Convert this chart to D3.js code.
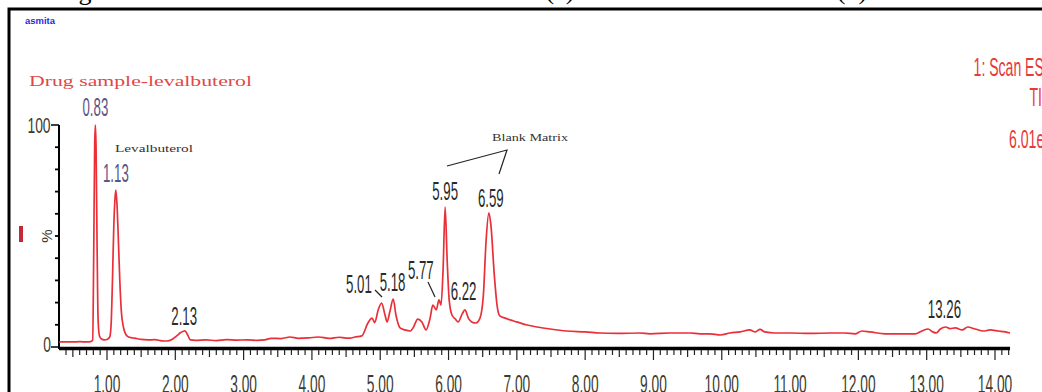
<!DOCTYPE html>
<html>
<head>
<meta charset="utf-8">
<script src="https://cdn.jsdelivr.net/npm/d3@7"></script>
<style>
  html, body { margin: 0; padding: 0; background: #fff; }
  svg { display: block; }
</style>
</head>
<body>
<svg id="chart" width="1042" height="392"></svg>
<script>
// ---------------- DATA ----------------
const rtTimes = [
  0.30, 0.40, 0.50, 0.60, 0.70, 0.76, 0.79, 0.805, 0.82, 0.83, 0.84, 0.855, 0.87, 0.89, 0.92, 0.96, 1.00, 1.04,
  1.06, 1.08, 1.10, 1.12, 1.13, 1.15, 1.17, 1.19, 1.21, 1.24, 1.27, 1.30, 1.35, 1.40, 1.50, 1.60, 1.70, 1.80,
  1.88, 1.95, 2.02, 2.08, 2.14, 2.18, 2.22, 2.30, 2.45, 2.60, 2.75, 2.90, 3.05, 3.20, 3.31, 3.40, 3.55, 3.68,
  3.80, 3.95, 4.10, 4.25, 4.40, 4.50, 4.56, 4.63, 4.73, 4.82, 4.88, 4.92, 4.97, 5.02, 5.07, 5.10, 5.14, 5.19,
  5.23, 5.29, 5.36, 5.44, 5.48, 5.55, 5.61, 5.67, 5.73, 5.77, 5.82, 5.86, 5.89, 5.92, 5.95, 5.98, 6.01, 6.05,
  6.10, 6.14, 6.20, 6.24, 6.29, 6.34, 6.40, 6.46, 6.51, 6.55, 6.59, 6.62, 6.67, 6.71, 6.75, 6.83, 6.90, 7.00,
  7.15, 7.30, 7.49, 7.73, 8.00, 8.22, 8.47, 8.80, 8.95, 9.24, 9.54, 9.68, 9.83, 9.98, 10.12, 10.27, 10.41,
  10.49, 10.56, 10.63, 10.78, 11.00, 11.29, 11.59, 11.80, 11.95, 12.05, 12.17, 12.39, 12.61, 12.83, 12.93,
  13.02, 13.09, 13.14, 13.20, 13.28, 13.34, 13.42, 13.52, 13.60, 13.71, 13.83, 13.93, 14.05, 14.15, 14.22
];
const rtIntensity = [
  2.3, 2.3, 2.3, 2.4, 2.3, 2.4, 3.0, 40, 92, 100, 90, 45, 12, 5.0, 3.6, 3.2, 3.4, 4.5,
  10, 30, 55, 68, 70.7, 62, 45, 28, 16, 9.0, 6.0, 4.8, 4.2, 4.0, 3.4, 3.2, 3.3, 2.8,
  2.7, 3.4, 5.0, 6.5, 7.3, 5.5, 3.2, 3.0, 3.2, 2.9, 3.3, 3.1, 3.2, 3.0, 3.2, 3.9, 3.8, 4.5,
  3.9, 4.1, 4.5, 3.9, 4.4, 4.0, 4.0, 4.5, 5.0, 10.8, 13.0, 11.0, 16.7, 19.8, 14.4, 11.3, 15.8, 21.6,
  14.4, 8.6, 7.7, 7.2, 8.6, 12.6, 11.3, 7.7, 13.0, 18.9, 16.7, 21.2, 18.9, 34.7, 63.0, 39.0, 21.0, 14.4,
  12.6, 11.3, 14.9, 16.7, 13.0, 11.3, 10.8, 13.0, 23.4, 48.0, 60.4, 55.0, 32.4, 18.9, 14.0, 13.0, 12.2, 11.3,
  9.9, 9.0, 8.1, 7.2, 6.8, 6.3, 6.1, 6.3, 5.9, 6.3, 6.3, 5.9, 5.9, 5.4, 6.3, 6.8, 7.7,
  6.8, 7.9, 6.8, 6.3, 6.3, 6.1, 6.3, 6.3, 5.9, 7.2, 6.8, 5.9, 5.9, 5.9, 7.2,
  8.1, 6.8, 6.3, 8.1, 9.0, 8.3, 8.6, 7.7, 9.0, 8.1, 7.2, 7.7, 7.2, 6.8, 6.3
];

const peakLabels  = ["0.83", "1.13", "2.13", "5.01", "5.18", "5.77", "5.95", "6.22", "6.59", "13.26"];
const peakTimes   = [0.83, 1.13, 2.13, 5.01, 5.18, 5.77, 5.95, 6.22, 6.59, 13.26];
const peakHeights = [100, 70.7, 7.3, 19.8, 21.6, 18.9, 63.0, 16.7, 60.4, 9.0];

const xTickValues = [1, 2, 3, 4, 5, 6, 7, 8, 9, 10, 11, 12, 13, 14];
const xTickLabels = ["1.00", "2.00", "3.00", "4.00", "5.00", "6.00", "7.00", "8.00", "9.00", "10.00", "11.00", "12.00", "13.00", "14.00"];
const yTickLabels = ["0", "100"];

const headerTexts = ["1: Scan ES+", "TIC", "6.01e7"];

// ---------------- LAYOUT ----------------
const svg = d3.select("#chart");
const x = d3.scaleLinear().domain([1, 14]).range([107, 995]);
const y = d3.scaleLinear().domain([0, 100]).range([347, 125]);
const xMin = 0.297, xMax = 14.22;

const narrow = "'Liberation Sans', Arial, sans-serif";
function condText(g, txt, cx, by, size, sx, color, anchor) {
  return g.append("text")
    .attr("transform", `translate(${cx},${by}) scale(${sx},1)`)
    .attr("text-anchor", anchor || "middle")
    .attr("font-family", narrow)
    .attr("font-size", size)
    .attr("fill", color)
    .text(txt);
}

// caption remnants clipped at top
const cap = svg.append("g").attr("font-family", "'Liberation Serif', serif").attr("font-size", 26).attr("fill", "#000");
cap.append("text").attr("x", 85).attr("y", 0).attr("text-anchor", "middle").text("g");
cap.append("text").attr("x", 560).attr("y", -1).attr("text-anchor", "middle").text("(a)");
cap.append("text").attr("x", 852).attr("y", -1).attr("text-anchor", "middle").text("(b)");

// frame
svg.append("rect").attr("x", 9).attr("y", 9).attr("width", 1100).attr("height", 420)
  .attr("fill", "none").attr("stroke", "#000").attr("stroke-width", 3);

// header texts
svg.append("text").attr("x", 25).attr("y", 24)
  .attr("font-family", "'Liberation Sans', Arial, sans-serif").attr("font-weight", "bold")
  .attr("font-size", 9).attr("fill", "#2b2bd6").attr("textLength", 30).attr("lengthAdjust", "spacingAndGlyphs")
  .text("asmita");

svg.append("text").attr("x", 29).attr("y", 86)
  .attr("font-family", "'Liberation Serif', 'Times New Roman', serif")
  .attr("font-size", 15).attr("fill", "#e04848")
  .attr("textLength", 223).attr("lengthAdjust", "spacingAndGlyphs")
  .text("Drug sample-levalbuterol");

const hdrY = [76, 106, 148];
headerTexts.forEach((t, i) => condText(svg, t, 1052, hdrY[i], 26, 0.54, "#e83838", "end"));

// y axis
const ax = svg.append("g");
ax.append("line").attr("x1", 59).attr("x2", 59).attr("y1", y(100)).attr("y2", y(0) + 2)
  .attr("stroke", "#000").attr("stroke-width", 2);
d3.range(0, 101, 10).forEach(v => {
  const major = (v === 0 || v === 100);
  ax.append("line").attr("x1", major ? 51 : 55).attr("x2", 59).attr("y1", y(v)).attr("y2", y(v))
    .attr("stroke", "#000").attr("stroke-width", major ? 1.5 : 1.8);
});
condText(ax, yTickLabels[1], 39, y(100) + 8, 22, 0.63, "#3c3c30");
condText(ax, yTickLabels[0], 47, y(0) + 5, 22, 0.63, "#3c3c30");
ax.append("text").attr("transform", `translate(52,${y(50)}) rotate(-90)`)
  .attr("text-anchor", "middle").attr("font-family", narrow).attr("font-size", 15).attr("fill", "#333")
  .text("%");
svg.append("rect").attr("x", 19).attr("y", 226).attr("width", 4).attr("height", 16).attr("fill", "#c42a36");

// x axis
const xa = svg.append("g");
xa.append("line").attr("x1", x(xMin)).attr("x2", x(xMax)).attr("y1", 348.5).attr("y2", 348.5)
  .attr("stroke", "#000").attr("stroke-width", 3.5);
d3.range(4, 143).forEach(k => {
  const v = k / 10;
  const len = (k % 10 === 0) ? 10 : (k % 5 === 0 ? 7 : 5);
  xa.append("line").attr("x1", x(v)).attr("x2", x(v)).attr("y1", 350).attr("y2", 350 + len)
    .attr("stroke", "#222").attr("stroke-width", 1.2);
});
xTickValues.forEach((v, i) => condText(xa, xTickLabels[i], x(v), 393, 25, 0.55, "#3c3c30"));

// trace
const line = d3.line().x((d, i) => x(rtTimes[i])).y(d => y(d)).curve(d3.curveMonotoneX);
svg.append("path").datum(rtIntensity).attr("d", line)
  .attr("fill", "none").attr("stroke", "#ea2f38").attr("stroke-width", 1.7).attr("stroke-linejoin", "round");

// peak labels
const labelDx = [0, 0, 0, -22, 0, -12, 0, 0, 2, 0];
const labelDy = [-9, -8, -6, -10, -8, -26, -7, -10, -6, -9];
const labelCol = ["#5d5785", "#5a5488", "#2a2a2a", "#2a2a2a", "#2a2a2a", "#2a2a2a", "#2a2a2a", "#2a2a2a", "#2a2a2a", "#2a2a2a"];
peakLabels.forEach((t, i) => {
  condText(svg, t, x(peakTimes[i]) + labelDx[i], y(peakHeights[i]) + labelDy[i], 25, 0.53, labelCol[i]);
});

// annotations
const ann = svg.append("g").attr("stroke", "#222").attr("stroke-width", 1.2).attr("fill", "none");
ann.append("line").attr("x1", 375).attr("y1", 290).attr("x2", 382).attr("y2", 297);
ann.append("line").attr("x1", 428).attr("y1", 282).attr("x2", 435).attr("y2", 297);
ann.append("polyline").attr("points", "447,166 507,150 499,174");

svg.append("text").attr("x", 115).attr("y", 152)
  .attr("font-family", "'Liberation Serif', serif").attr("font-size", 10)
  .attr("fill", "#333").attr("textLength", 78).attr("lengthAdjust", "spacingAndGlyphs")
  .text("Levalbuterol");
svg.append("text").attr("x", 492).attr("y", 141)
  .attr("font-family", "'Liberation Serif', serif").attr("font-size", 9.5)
  .attr("fill", "#333").attr("textLength", 76).attr("lengthAdjust", "spacingAndGlyphs")
  .text("Blank Matrix");
</script>
</body>
</html>
